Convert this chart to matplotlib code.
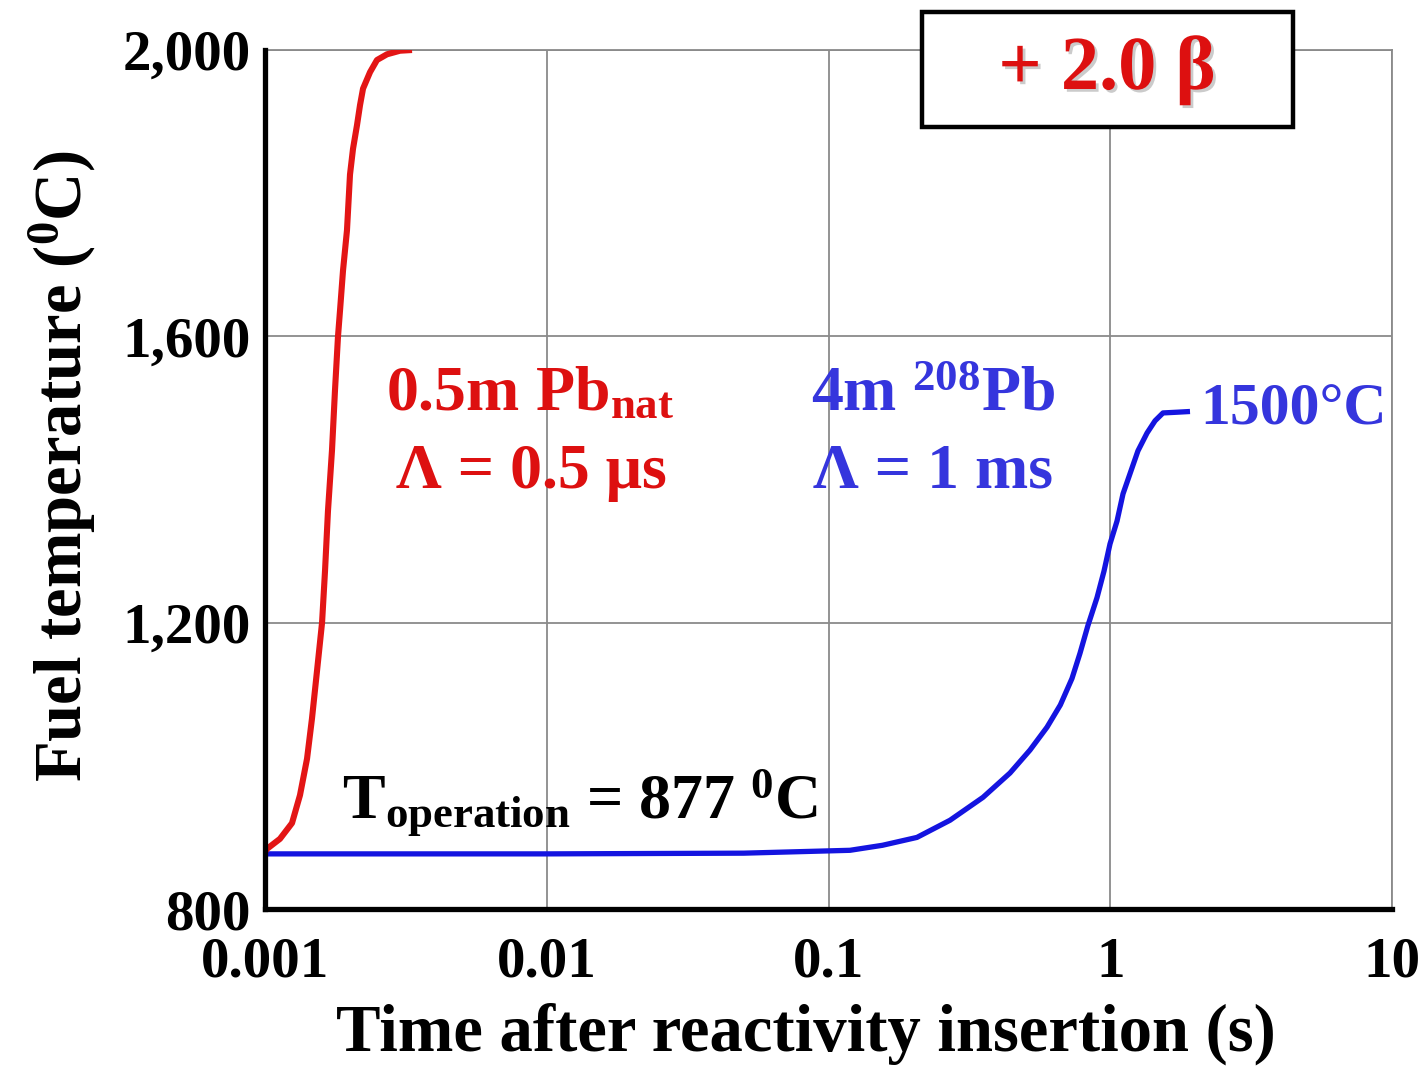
import matplotlib as mpl

mpl.use("agg")

import matplotlib.pyplot as plt
import matplotlib.patheffects as pe
from matplotlib.patches import Rectangle

red_time = [0.001, 0.001016, 0.00113, 0.001247, 0.001331, 0.00141, 0.001468,
            0.00153, 0.001594, 0.001633, 0.001673, 0.001729, 0.001772,
            0.001816, 0.001846, 0.001892, 0.001954, 0.002003, 0.002053,
            0.002121, 0.002174, 0.002228, 0.002359, 0.002497, 0.00271,
            0.003014, 0.003325]
red_temp = [880, 884, 898, 920, 959, 1010, 1066, 1133, 1200, 1272, 1356, 1441,
            1525, 1600, 1636, 1692, 1748, 1826, 1862, 1895, 1923, 1946, 1969,
            1986, 1994, 1999, 2000]

blue_time = [0.001, 0.01, 0.05, 0.1192, 0.1554, 0.206, 0.27, 0.3535, 0.4408,
             0.5189, 0.5965, 0.665, 0.7314, 0.7806, 0.8333, 0.8975, 0.9502,
             0.998, 1.057, 1.11, 1.175, 1.254, 1.351, 1.442, 1.539, 1.726,
             1.919]
blue_temp = [877, 877, 878, 882, 889, 900, 924, 956, 990, 1022, 1054, 1085,
             1122, 1157, 1196, 1235, 1272, 1310, 1342, 1380, 1408, 1440, 1465,
             1482, 1493, 1494, 1495]

x_ticks = [0.001, 0.01, 0.1, 1, 10]
x_tick_labels = ["0.001", "0.01", "0.1", "1", "10"]
y_ticks = [800, 1200, 1600, 2000]
y_tick_labels = ["800", "1,200", "1,600", "2,000"]

RED_LINE = "#E31515"
BLUE_LINE = "#1414E0"
RED_TEXT = "#DD1010"
BLUE_TEXT = "#3535DD"
GRID = "#8a8a8a"

plt.rcParams["font.family"] = ["Liberation Serif", "DejaVu Serif"]
plt.rcParams["font.weight"] = "bold"
plt.rcParams["axes.labelweight"] = "bold"
plt.rcParams["mathtext.fontset"] = "custom"
plt.rcParams["mathtext.rm"] = "Liberation Serif:bold"
plt.rcParams["mathtext.bf"] = "Liberation Serif:bold"
plt.rcParams["mathtext.it"] = "Liberation Serif:bold:italic"

W, H = 1424, 1076
fig = plt.figure(figsize=(W / 100, H / 100), dpi=100)
ax = fig.add_axes([265 / W, 1 - 909 / H, (1392 - 265) / W, (909 - 50) / H])

ax.plot(blue_time, blue_temp, color=BLUE_LINE, lw=3.8,
        solid_capstyle="butt", solid_joinstyle="round", zorder=3)
ax.plot(red_time, red_temp, color=RED_LINE, lw=4.4,
        solid_capstyle="butt", solid_joinstyle="round", zorder=4)

ax.set_xscale("log")
ax.set_xlim(0.001, 10)
ax.set_ylim(800, 2000)
ax.set_xticks(x_ticks)
ax.set_xticklabels(x_tick_labels)
ax.set_yticks(y_ticks)
ax.set_yticklabels(y_tick_labels)
ax.minorticks_off()
ax.tick_params(axis="both", length=0, labelsize=41)
ax.tick_params(axis="x", pad=20)
ax.tick_params(axis="y", pad=10)
ax.grid(True, color=GRID, lw=1.3)

for side in ("top", "right"):
    ax.spines[side].set_color(GRID)
    ax.spines[side].set_linewidth(1.3)
for side in ("left", "bottom"):
    ax.spines[side].set_color("black")
    ax.spines[side].set_linewidth(3.8)
    ax.spines[side].set_zorder(5)

ax.set_xlabel("Time after reactivity insertion (s)", fontsize=48, labelpad=10)
ax.set_ylabel(r"Fuel temperature ($^{\mathbf{0}}$C)", fontsize=48, labelpad=18)
ax.xaxis.label.set_x(0.48)
ax.yaxis.label.set_y(0.515)


def fx(px):
    return px / W


def fy(py):
    return 1 - py / H


# annotations
fig.text(fx(530), fy(410), r"0.5m Pb$_{\mathbf{nat}}$", color=RED_TEXT,
         fontsize=46, ha="center", va="baseline")
fig.text(fx(531), fy(488), "Λ = 0.5 μs", color=RED_TEXT,
         fontsize=46, ha="center", va="baseline")
fig.text(fx(933), fy(410), r"4m $^{\mathbf{208}}$Pb", color=BLUE_TEXT,
         fontsize=46, ha="center", va="baseline")
fig.text(fx(933), fy(488), "Λ = 1 ms", color=BLUE_TEXT,
         fontsize=46, ha="center", va="baseline")
fig.text(fx(1200), fy(410), "1500°C", color=BLUE_TEXT,
         fontsize=43, ha="left", va="center")
fig.text(fx(580), fy(818), r"T$_{\mathbf{operation}}$ = 877 $^{\mathbf{0}}$C",
         color="black", fontsize=46, ha="center", va="baseline")

# boxed reactivity label
fig.patches.append(Rectangle((fx(922), fy(127)), (1293 - 922) / W, (127 - 12) / H,
                             transform=fig.transFigure, facecolor="white",
                             edgecolor="black", lw=3.2, zorder=10))
fig.text(fx(1107), fy(70), "+ 2.0 β", color=RED_TEXT, fontsize=55,
         ha="center", va="center", zorder=11,
         path_effects=[pe.SimplePatchShadow(offset=(2, -2), shadow_rgbFace="#999999", alpha=0.5),
                       pe.Normal()])

fig.savefig("out.png", dpi=100)
